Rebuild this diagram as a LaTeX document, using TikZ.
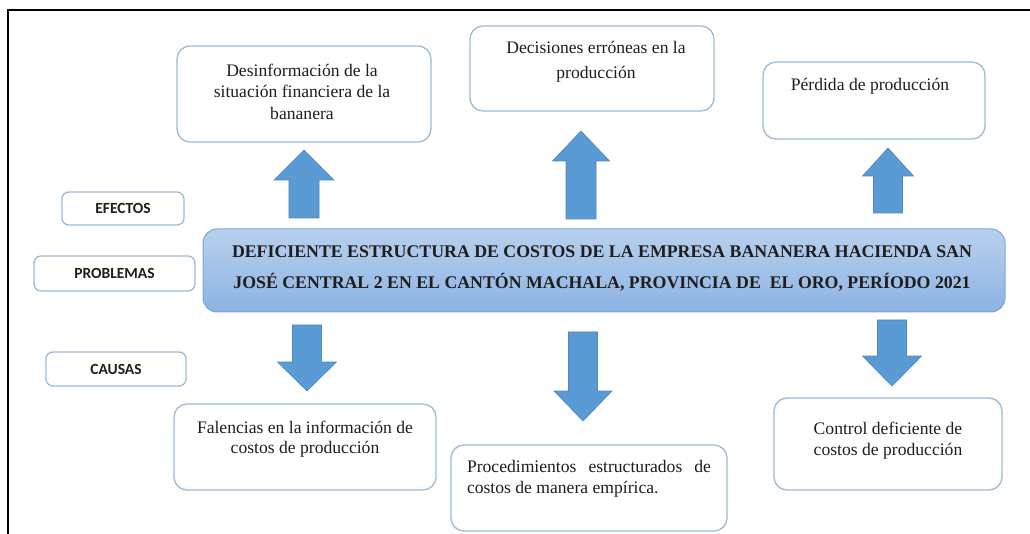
\documentclass[tikz,border=0pt]{standalone}
\usepackage{fontspec}
\setmainfont{Liberation Serif}
\newfontfamily\labelfont{Carlito}
\definecolor{boxline}{HTML}{9DBBD9}
\definecolor{arrowfill}{HTML}{5B9BD5}
\definecolor{arrowline}{HTML}{4F87C0}
\definecolor{centtop}{HTML}{B8D0EE}
\definecolor{centbot}{HTML}{8DB3E2}
\definecolor{centline}{HTML}{7EA6D6}
\definecolor{txt}{HTML}{1E1E1E}
\newcommand\myblockarrow[6]{%
  \filldraw[blockarrow] ({#1-#4/2},#2) -- ({#1-#4/2},#6) -- ({#1-#5/2},#6) -- (#1,#3)
    -- ({#1+#5/2},#6) -- ({#1+#4/2},#6) -- ({#1+#4/2},#2) -- cycle;}
\tikzset{
  roundbox/.style={draw=boxline, line width=1.3pt, rounded corners=13pt, fill=white, inner sep=0pt},
  labelbox/.style={roundbox, rounded corners=7pt, font=\labelfont\bfseries\fontsize{15.5}{18}\selectfont, text=txt},
  boxtext/.style={inner sep=0pt, align=center, text=txt, font=\fontsize{17.6}{21.5}\selectfont},
  blockarrow/.style={fill=arrowfill, draw=arrowline, line width=0.6pt},
}
\begin{document}
\begin{tikzpicture}[x=1pt,y=-1pt]
\useasboundingbox (0,0) rectangle (1030,534);
\fill[white] (0,0) rectangle (1030,534);
% frame
\draw[line width=1.2pt] (8,534) -- (8,10) -- (1030,10);

% effects boxes
\node[roundbox, minimum width=254pt, minimum height=96pt] (e1) at (304,94) {};
\node[boxtext] (e1t) at (302,91.5) {Desinformación de la\\situación financiera de la\\bananera};
\node[roundbox, minimum width=244pt, minimum height=85pt] (e2) at (592,68.5) {};
\node[boxtext, font=\fontsize{17.6}{24.5}\selectfont] (e2t) at (596,62) {Decisiones erróneas en la\\producción};
\node[roundbox, minimum width=222pt, minimum height=77pt] (e3) at (874,100.5) {};
\node[boxtext] (e3t) at (870,86) {Pérdida de producción};

% side labels
\node[labelbox, minimum width=122pt, minimum height=33pt] (efectos) at (123,208.5) {EFECTOS};
\node[labelbox, minimum width=161pt, minimum height=35pt] (problemas) at (114.5,273.5) {PROBLEMAS};
\node[labelbox, minimum width=140pt, minimum height=34pt] (causas) at (116,369) {CAUSAS};

% central problem
\node[draw=centline, line width=1pt, rounded corners=14pt, top color=centtop, bottom color=centbot,
      minimum width=802pt, minimum height=83pt, inner sep=0pt] (prob) at (604,270.5) {};
\node[boxtext, font=\bfseries\fontsize{17.8}{31}\selectfont] (probt) at (602,268)
  {DEFICIENTE ESTRUCTURA DE COSTOS DE LA EMPRESA BANANERA HACIENDA SAN\\JOSÉ CENTRAL 2 EN EL CANTÓN MACHALA, PROVINCIA DE\ \ EL ORO, PERÍODO 2021};

% cause boxes
\node[roundbox, minimum width=262pt, minimum height=86pt] (c1) at (305,447) {};
\node[boxtext, font=\fontsize{17.6}{20.5}\selectfont] (c1t) at (305,439) {Falencias en la información de\\costos de producción};
\node[roundbox, minimum width=276pt, minimum height=86pt] (c2) at (589,488) {};
\node[boxtext, align=justify, text width=244pt, font=\fontsize{17.6}{20.5}\selectfont] (c2t) at (589,479)
  {Procedimientos estructurados de\linebreak costos de manera empírica.};
\node[roundbox, minimum width=228pt, minimum height=92pt] (c3) at (888,444) {};
\node[boxtext, font=\fontsize{17.6}{21}\selectfont] (c3t) at (888,440.5) {Control deficiente de\\costos de producción};

% block arrows: x, tail y, tip y, shaft width, head width, head base y
\myblockarrow{304}{218}{150}{30}{60}{180}
\myblockarrow{581}{219}{131}{30}{57}{161}
\myblockarrow{888}{213}{148}{29}{51}{176}
\myblockarrow{307}{325}{391}{29}{59}{362}
\myblockarrow{583}{332}{421}{29}{58}{391}
\myblockarrow{892}{320}{386}{29}{59}{356}
\end{tikzpicture}
\end{document}
